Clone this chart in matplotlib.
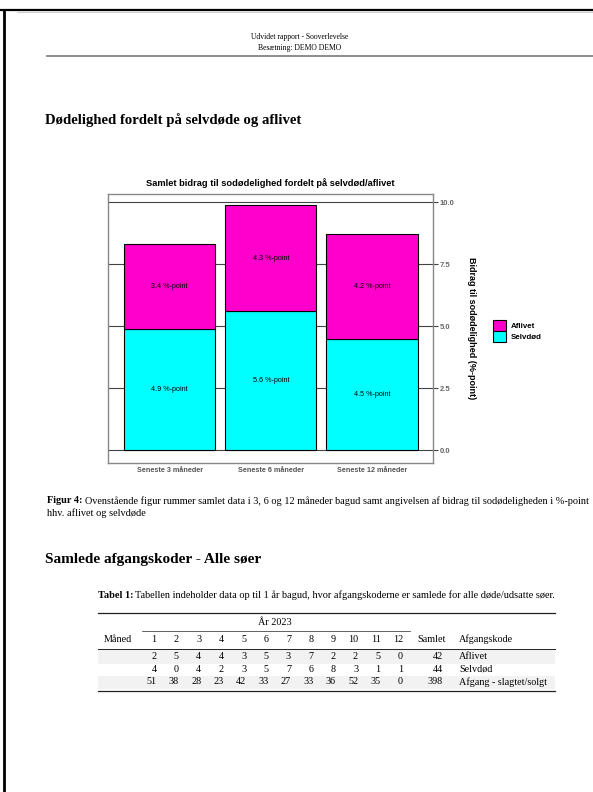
import matplotlib
matplotlib.use("Agg")
import matplotlib.pyplot as plt
from matplotlib.patches import Rectangle

# chart data (%-point)
periods = ["Seneste 3 måneder", "Seneste 6 måneder", "Seneste 12 måneder"]
selvdod = [4.9, 5.6, 4.5]
aflivet = [3.4, 4.3, 4.2]

# table data
months = list(range(1, 13))
codes = ["Aflivet", "Selvdød", "Afgang - slagtet/solgt"]
tab_aflivet = [2, 5, 4, 4, 3, 5, 3, 7, 2, 2, 5, 0]
tab_selvdod = [4, 0, 4, 2, 3, 5, 7, 6, 8, 3, 1, 1]
tab_afgang = [51, 38, 28, 23, 42, 33, 27, 33, 36, 52, 35, 0]

MAGENTA = "#ff00cc"
CYAN = "#00ffff"
SERIF = "Liberation Serif"
SANS = "Liberation Sans"

W, H = 593, 792
fig = plt.figure(figsize=(W / 100, H / 100), dpi=100)

# page layer in pixel coordinates
page = fig.add_axes([0, 0, 1, 1])
page.set_xlim(0, W)
page.set_ylim(H, 0)
page.axis("off")

# screenshot frame
page.plot([0, W], [9.5, 9.5], color="black", lw=1.6)
page.plot([4, 4], [9.5, H], color="black", lw=2)
page.plot([17, W], [11.5, 11.5], color="#d0d0d0", lw=0.8)

# header
page.text(300, 36.7, "Udvidet rapport - Sooverlevelse", family=SERIF,
          fontsize=5.5, ha="center", va="center")
page.text(300, 47.5, "Besætning: DEMO DEMO", family=SERIF,
          fontsize=5.5, ha="center", va="center")
page.plot([46.7, W], [55.7, 55.7], color="#7a7a7a", lw=1.2)

page.text(45, 120, "Dødelighed fordelt på selvdøde og aflivet", family=SERIF,
          fontsize=10.6, fontweight="bold", va="center")

# chart
ax = fig.add_axes([108 / W, 1 - 462.7 / H, 324.7 / W, 268.7 / H])
x = [1, 2, 3]
ax.bar(x, selvdod, 0.9, color=CYAN, edgecolor="black", lw=0.8, zorder=3)
ax.bar(x, aflivet, 0.9, bottom=selvdod, color=MAGENTA, edgecolor="black",
       lw=0.8, zorder=3)
for xi, s, a in zip(x, selvdod, aflivet):
    ax.text(xi, s / 2, f"{s} %-point", ha="center", va="center",
            fontsize=5.2, family=SANS, zorder=4)
    ax.text(xi, s + a / 2, f"{a} %-point", ha="center", va="center",
            fontsize=5.2, family=SANS, zorder=4)

ax.set_xlim(0.39, 3.6)
ax.set_ylim(-0.5, 10.33)
ax.set_xticks(x)
ax.set_xticklabels(periods, family=SANS, fontsize=5.2, fontweight="bold",
                   color="#555555")
ax.set_yticks([0, 2.5, 5, 7.5, 10])
ax.set_yticklabels([f"{v:.1f}" for v in [0, 2.5, 5, 7.5, 10]], family=SANS,
                   fontsize=5.5, fontweight="bold", color="#666666")
ax.yaxis.tick_right()
ax.tick_params(axis="y", length=3.6, width=0.8, color="#444444", pad=1.2)
ax.tick_params(axis="x", length=0, pad=3)
ax.set_axisbelow(True)
ax.grid(axis="y", color="#444444", lw=0.8)
for sp in ax.spines.values():
    sp.set_color("#888888")
    sp.set_linewidth(1)
ax.set_title("Samlet bidrag til sodødelighed fordelt på selvdød/aflivet",
             family=SANS, fontsize=6.7, fontweight="bold", pad=6)
ax.text(1.12, 0.5, "Bidrag til sodødelighed (%-point)", transform=ax.transAxes,
        rotation=270, ha="center", va="center", family=SANS, fontsize=6.5,
        fontweight="bold")
handles = [Rectangle((0, 0), 1, 1, fc=MAGENTA, ec="black", lw=0.8),
           Rectangle((0, 0), 1, 1, fc=CYAN, ec="black", lw=0.8)]
ax.legend(handles, ["Aflivet", "Selvdød"], loc="center left",
          bbox_to_anchor=(1.185, 0.49), frameon=False,
          prop={"family": SANS, "size": 5.7, "weight": "bold"},
          handlelength=1.68, handleheight=1.68, labelspacing=0, borderpad=0,
          borderaxespad=0, handletextpad=0.6)

renderer = fig.canvas.get_renderer()


def bold_lead(xp, yp, lead, rest, size):
    t = page.text(xp, yp, lead, family=SERIF, fontsize=size,
                  fontweight="bold", va="center")
    bb = t.get_window_extent(renderer)
    page.text(bb.x1 + 2, yp, rest, family=SERIF, fontsize=size, va="center")


# figure caption
bold_lead(47.3, 500.7, "Figur 4:",
          "Ovenstående figur rummer samlet data i 3, 6 og 12 måneder bagud "
          "samt angivelsen af bidrag til sodødeligheden i %-point", 7.4)
page.text(47.3, 513.3, "hhv. aflivet og selvdøde", family=SERIF, fontsize=7.4,
          va="center")

page.text(45, 559, "Samlede afgangskoder - Alle søer", family=SERIF,
          fontsize=11, fontweight="bold", va="center")

# table
bold_lead(97.7, 595, "Tabel 1:",
          "Tabellen indeholder data op til 1 år bagud, hvor afgangskoderne "
          "er samlede for alle døde/udsatte søer.", 7.4)

tx0, tx1 = 97.7, 555
page.add_patch(Rectangle((tx0, 650), tx1 - tx0, 13.5, color="#f2f2f2", lw=0))
page.add_patch(Rectangle((tx0, 675.5), tx1 - tx0, 13.5, color="#f2f2f2", lw=0))
page.plot([tx0, tx1], [612.7, 612.7], color="#222222", lw=0.9)
page.plot([141.7, 410], [631, 631], color="#222222", lw=0.5)
page.plot([tx0, tx1], [649.3, 649.3], color="#222222", lw=0.7)
page.plot([tx0, tx1], [690.7, 690.7], color="#222222", lw=0.9)

tfont = dict(family=SERIF, fontsize=7.3, va="center")
page.text(275, 622.7, "År 2023", ha="center", **tfont)
page.text(118.3, 639.3, "Måned", ha="center", **tfont)
col_right = [156.5 + 22.4 * i for i in range(12)]
for xr, m in zip(col_right, months):
    page.text(xr, 639.3, str(m), ha="right", **tfont)
page.text(446, 639.3, "Samlet", ha="right", **tfont)
page.text(459, 639.3, "Afgangskode", ha="left", **tfont)

row_y = [656.7, 669.3, 681.7]
for yr, code, vals in zip(row_y, codes, [tab_aflivet, tab_selvdod, tab_afgang]):
    for xr, v in zip(col_right, vals):
        page.text(xr, yr, str(v), ha="right", **tfont)
    page.text(443, yr, str(sum(vals)), ha="right", **tfont)
    page.text(459, yr, code, ha="left", **tfont)

fig.savefig("out.png", dpi=100)
